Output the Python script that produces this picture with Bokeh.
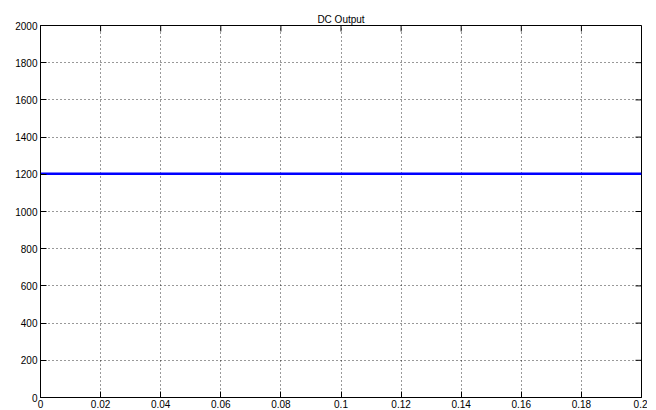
import math
from bokeh.plotting import figure
from bokeh.models import LinearAxis, FixedTicker
from bokeh.embed import file_html
from bokeh.resources import INLINE

# data
time_s = [0.0, 0.02, 0.04, 0.06, 0.08, 0.1, 0.12, 0.14, 0.16, 0.18, 0.2]
dc_output = [1203, 1203, 1203, 1203, 1203, 1203, 1203, 1203, 1203, 1203, 1203]
x_ticks = [0, 0.02, 0.04, 0.06, 0.08, 0.1, 0.12, 0.14, 0.16, 0.18, 0.2]
y_ticks = [0, 200, 400, 600, 800, 1000, 1200, 1400, 1600, 1800, 2000]
x_labels = {0: "0", 0.02: "0.02", 0.04: "0.04", 0.06: "0.06", 0.08: "0.08", 0.1: "0.1",
            0.12: "0.12", 0.14: "0.14", 0.16: "0.16", 0.18: "0.18", 0.2: "0.2"}
x_min, x_max = 0, 0.2
y_min, y_max = 0, 2000

FONT = "Liberation Sans"

p = figure(frame_width=601, frame_height=372, x_range=(x_min, x_max), y_range=(y_min, y_max),
           output_backend="svg", toolbar_location=None, title="DC Output",
           x_axis_location=None, y_axis_location=None,
           min_border_left=40, min_border_right=6, min_border_top=25, min_border_bottom=5)

p.title.align = "center"
p.title.text_font = FONT
p.title.text_font_size = "10px"
p.title.text_font_style = "normal"
p.title.text_color = "black"
p.title.standoff = 2
p.title.offset = 0

def mk_axis():
    ax = LinearAxis()
    ax.major_tick_in = 6
    ax.major_tick_out = 0
    ax.minor_tick_in = 0
    ax.minor_tick_out = 0
    ax.axis_line_color = "black"
    ax.major_tick_line_color = "black"
    ax.major_label_text_font = FONT
    ax.major_label_text_font_size = "10px"
    ax.major_label_text_color = "black"
    ax.major_label_standoff = 3
    return ax

xb = mk_axis()
xb.ticker = FixedTicker(ticks=x_ticks)
xb.major_label_overrides = x_labels
xb.major_label_standoff = 2
p.add_layout(xb, "below")

yl = mk_axis()
yl.ticker = FixedTicker(ticks=y_ticks)
p.add_layout(yl, "left")

# inward ticks on the top and right edges of the box
p.ray(x=x_ticks, y=[y_max] * len(x_ticks), length=6, angle=-math.pi / 2,
      length_units="screen", line_color="black", line_width=1)
p.ray(x=[x_max] * len(y_ticks), y=y_ticks, length=6, angle=math.pi,
      length_units="screen", line_color="black", line_width=1)

p.xgrid.ticker = FixedTicker(ticks=x_ticks)
p.ygrid.ticker = FixedTicker(ticks=y_ticks)
for g in (p.xgrid, p.ygrid):
    g.grid_line_color = "black"
    g.grid_line_alpha = 0.8
    g.grid_line_dash = "1 3"
    g.grid_line_width = 1

p.outline_line_color = "black"
p.background_fill_color = "white"
p.border_fill_color = "white"

p.line(time_s, dc_output, line_color="#0000ff", line_width=2.5)

open("out.html", "w").write(file_html(p, INLINE))
